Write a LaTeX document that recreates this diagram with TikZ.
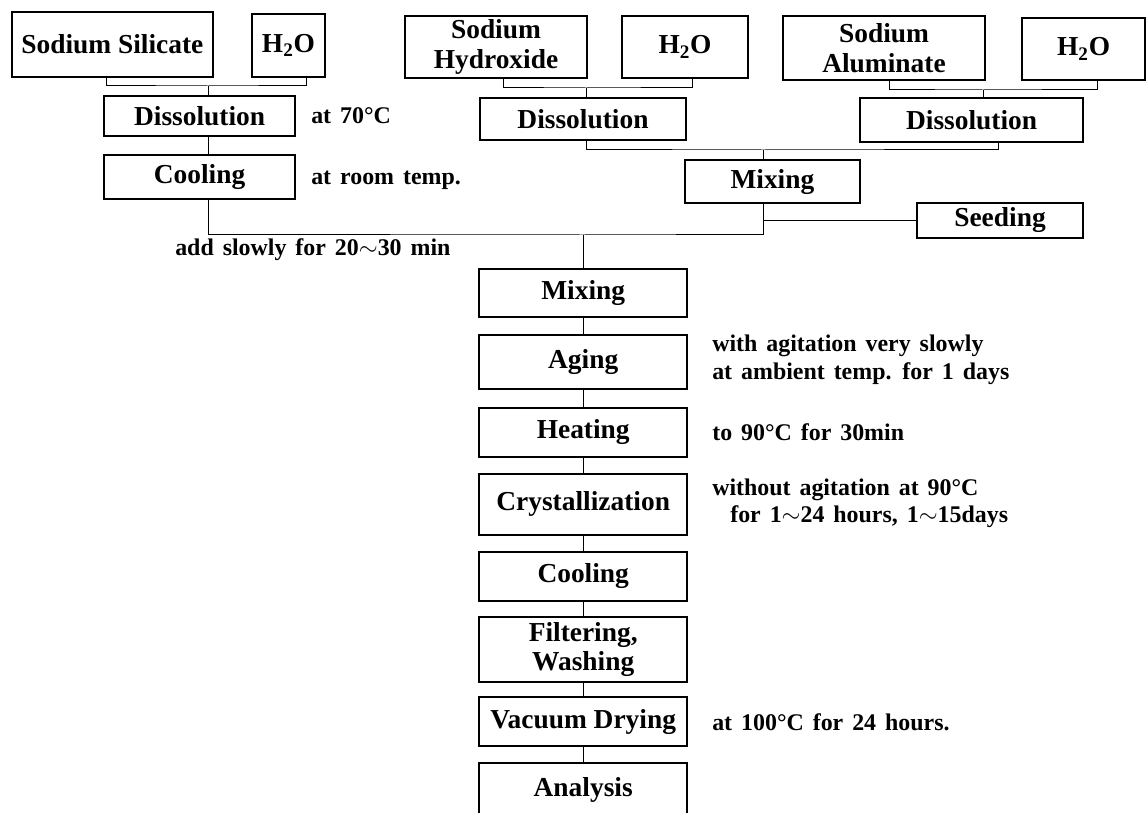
\documentclass[tikz,border=0pt]{standalone}
\usepackage{fontspec}
\setmainfont{Liberation Serif}
\newfontfamily\notefont[WordSpace=1.5]{Liberation Serif}
\usepackage{tikz}

\begin{document}
\begin{tikzpicture}[
    box/.style={draw, line width=1.3pt, inner sep=0pt, align=center, font=\fontsize{19.5}{21}\selectfont\bfseries},
    note/.style={anchor=west, inner sep=0pt, align=left, font=\notefont\fontsize{17}{19.5}\selectfont\bfseries},
    link/.style={line width=0.7pt}
]
    \useasboundingbox (0,0) rectangle (28.675,20.3);

    % === Top row: starting materials ===
    \node[box, minimum width=5.03cm, minimum height=1.63cm] (ss) at (2.81,19.19) {Sodium Silicate};
    \node[box, minimum width=1.83cm, minimum height=1.58cm] (wa) at (7.21,19.16) {H\textsubscript{2}O};
    \node[box, minimum width=4.55cm, minimum height=1.55cm] (sh) at (12.40,19.125) {Sodium\\Hydroxide};
    \node[box, minimum width=3.15cm, minimum height=1.55cm] (wb) at (17.125,19.125) {H\textsubscript{2}O};
    \node[box, minimum width=5.05cm, minimum height=1.60cm] (sa) at (22.10,19.10) {Sodium\\Aluminate};
    \node[box, minimum width=3.08cm, minimum height=1.55cm] (wc) at (27.09,19.075) {H\textsubscript{2}O};

    % === Dissolution ===
    \node[box, minimum width=4.78cm, minimum height=1.00cm] (dsa) at (4.99,17.40) {Dissolution};
    \node[box, minimum width=5.15cm, minimum height=1.05cm] (dsb) at (14.575,17.325) {Dissolution};
    \node[box, minimum width=5.58cm, minimum height=1.10cm] (dsc) at (24.29,17.30) {Dissolution};
    \node[note] at (7.775,17.40) {at 70°C};

    % === Cooling, mixing, seeding ===
    \node[box, minimum width=4.78cm, minimum height=1.10cm] (coola) at (4.99,15.875) {Cooling};
    \node[note] at (7.775,15.80) {at room temp.};
    \node[box, minimum width=4.38cm, minimum height=1.08cm] (mixa) at (19.31,15.76) {Mixing};
    \node[box, minimum width=4.15cm, minimum height=0.88cm] (seed) at (25.00,14.79) {Seeding};
    \node[note] at (4.375,14.05) {add slowly for 20$\sim$30 min};

    % === Main line ===
    \node[box, minimum width=5.20cm, minimum height=1.20cm] (mix) at (14.58,12.975) {Mixing};
    \node[box, minimum width=5.20cm, minimum height=1.35cm] (age) at (14.58,11.25) {Aging};
    \node[box, minimum width=5.20cm, minimum height=1.23cm] (heat) at (14.58,9.49) {Heating};
    \node[box, minimum width=5.20cm, minimum height=1.53cm] (cryst) at (14.58,7.69) {Crystallization};
    \node[box, minimum width=5.20cm, minimum height=1.23cm] (cool) at (14.58,5.89) {Cooling};
    \node[box, minimum width=5.20cm, minimum height=1.63cm] (filt) at (14.58,4.06) {Filtering,\\Washing};
    \node[box, minimum width=5.20cm, minimum height=1.23cm] (vac) at (14.58,2.26) {Vacuum Drying};
    \node[box, minimum width=5.20cm, minimum height=1.35cm] (anal) at (14.58,0.55) {Analysis};

    % Conditions
    \node[note] at (17.8,11.30) {with agitation very slowly\\at ambient temp. for 1 days};
    \node[note] at (17.8,9.50) {to 90°C for 30min};
    \node[note] at (17.8,7.72) {without agitation at 90°C\\\hspace*{0.45cm}for 1$\sim$24 hours, 1$\sim$15days};
    \node[note] at (17.8,2.25) {at 100°C for 24 hours.};

    % === Connectors ===
    \coordinate (ja) at (5.20,18.15);
    \coordinate (jb) at (14.65,18.10);
    \coordinate (jc) at (24.575,18.05);
    \coordinate (jd) at (19.075,16.55);
    \coordinate (je) at (14.58,14.425);

    \draw[link] ([xshift=-0.14cm]ss.south) |- (ja) -| ([xshift=0.46cm]wa.south);
    \draw[link] (ja) -- (ja |- dsa.north);
    \draw[link] ([xshift=0.18cm]sh.south) |- (jb) -| ([xshift=0.18cm]wb.south);
    \draw[link] (jb) -- (jb |- dsb.north);
    \draw[link] ([xshift=0.125cm]sa.south) |- (jc) -| ([xshift=0.34cm]wc.south);
    \draw[link] (jc) -- (jc |- dsc.north);

    \draw[link] (ja |- dsa.south) -- (ja |- coola.north);
    \draw[link] (jb |- dsb.south) |- (jd) -| ([xshift=0.66cm]dsc.south);
    \draw[link] (jd) -- (jd |- mixa.north);
    \draw[link] (ja |- coola.south) |- (je) -| (jd |- mixa.south);
    \draw[link] (jd |- seed.west) -- (seed.west);
    \draw[link] (je) -- (mix.north);

    \foreach \a/\b in {mix/age, age/heat, heat/cryst, cryst/cool, cool/filt, filt/vac, vac/anal}
        \draw[link] (\a) -- (\b);
\end{tikzpicture}
\end{document}
